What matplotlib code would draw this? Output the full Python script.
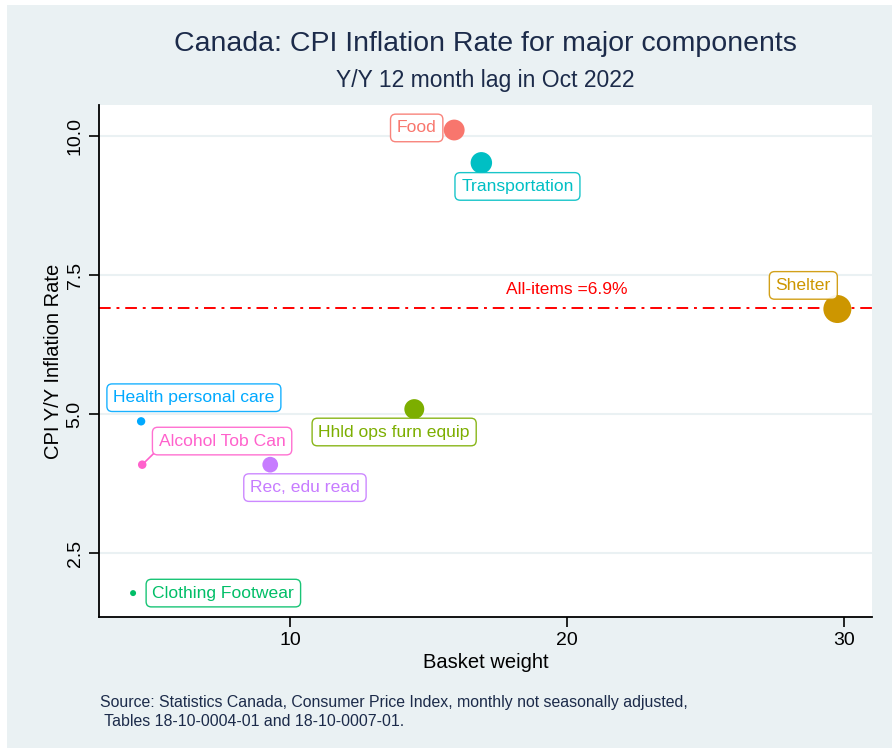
import numpy as np
import matplotlib.pyplot as plt
from matplotlib.patches import Rectangle

# Datos
components = ['Food', 'Shelter', 'Hhld ops furn equip', 'Clothing Footwear',
              'Transportation', 'Health personal care', 'Rec, edu read', 'Alcohol Tob Can']
weight = [15.92, 29.75, 14.48, 4.33, 16.90, 4.62, 9.28, 4.66]
inflation = [10.11, 6.89, 5.09, 1.78, 9.52, 4.87, 4.09, 4.09]
all_items = 6.9

colors = ['#F8766D', '#CD9600', '#7CAE00', '#00BE67',
          '#00BFC4', '#00A9FF', '#C77CFF', '#FF61CC']
# desplazamiento de cada etiqueta (puntos)
label_offsets = [(-27, 1.5), (-24.5, 17), (-14.5, -16.5), (65, 0),
                 (26, -17), (38, 17), (25, -16.5), (57.5, 17)]

plt.rcParams['font.family'] = ['Liberation Sans', 'DejaVu Sans']
navy = '#1c2b4a'
bg = '#EAF1F3'

fig = plt.figure(figsize=(8.92, 7.48), dpi=100, facecolor='white')
fig.patches.append(Rectangle((7 / 892, 0), 1, 1 - 5 / 748, transform=fig.transFigure,
                             facecolor=bg, edgecolor='none', zorder=-10))
ax = fig.add_axes([99 / 892, (748 - 617) / 748, (872 - 99) / 892, (617 - 105) / 748])
ax.set_facecolor('white')

# tamaño del punto según el peso (escala de área, como ggplot)
w = np.array(weight)
t = (w - w.min()) / (w.max() - w.min())
diam = (6 + 22 * np.sqrt(t)) * 0.72
ax.scatter(weight, inflation, s=diam ** 2, c=colors, zorder=3, linewidths=0)

ax.axhline(all_items, color='red', lw=1.4, linestyle=(0, (6, 3, 1.5, 3)), zorder=2)
ax.annotate('All-items =%.1f%%' % all_items, (20, all_items), xytext=(0, 13.5),
            textcoords='offset points', ha='center', va='center', color='red', fontsize=12.5)

for name, x, y, col, off in zip(components, weight, inflation, colors, label_offsets):
    arrow = None
    if name == 'Alcohol Tob Can':
        arrow = dict(arrowstyle='-', color=col, lw=1.2, shrinkA=0, shrinkB=0, relpos=(0, 0))
    ax.annotate(name, (x, y), xytext=off, textcoords='offset points',
                ha='center', va='center', color=col, fontsize=12.6, zorder=4,
                bbox=dict(boxstyle='round,pad=0.36,rounding_size=0.3', fc='white', ec=col, lw=1, alpha=0.9),
                arrowprops=arrow)

ax.set_xlim(3.1, 31.0)
ax.set_ylim(1.35, 10.56)
ax.set_xticks([10, 20, 30])
ax.set_yticks([2.5, 5.0, 7.5, 10.0])
ax.set_yticklabels(['2.5', '5.0', '7.5', '10.0'], rotation=90, va='center')
ax.grid(axis='y', color=bg, lw=1.5)
ax.set_axisbelow(True)
for s in ['top', 'right']:
    ax.spines[s].set_visible(False)
for s in ['left', 'bottom']:
    ax.spines[s].set_linewidth(1.3)
ax.tick_params(axis='both', labelsize=14, length=7.5, width=1.2, colors='black')
ax.tick_params(axis='x', pad=3)
ax.set_xlabel('Basket weight', fontsize=14.5, labelpad=3)
ax.set_ylabel('CPI Y/Y Inflation Rate', fontsize=14.5, labelpad=3)

fig.text(485 / 892, 1 - 44 / 748, 'Canada: CPI Inflation Rate for major components',
         ha='center', va='center', fontsize=20.5, color=navy)
fig.text(485 / 892, 1 - 81 / 748, 'Y/Y 12 month lag in Oct 2022',
         ha='center', va='center', fontsize=16.5, color=navy)
fig.text(100 / 892, 1 - 712 / 748,
         'Source: Statistics Canada, Consumer Price Index, monthly not seasonally adjusted,\n'
         ' Tables 18-10-0004-01 and 18-10-0007-01.',
         ha='left', va='center', fontsize=11.4, color=navy, linespacing=1.25)

fig.savefig('out.png', dpi=100, facecolor=fig.get_facecolor())
